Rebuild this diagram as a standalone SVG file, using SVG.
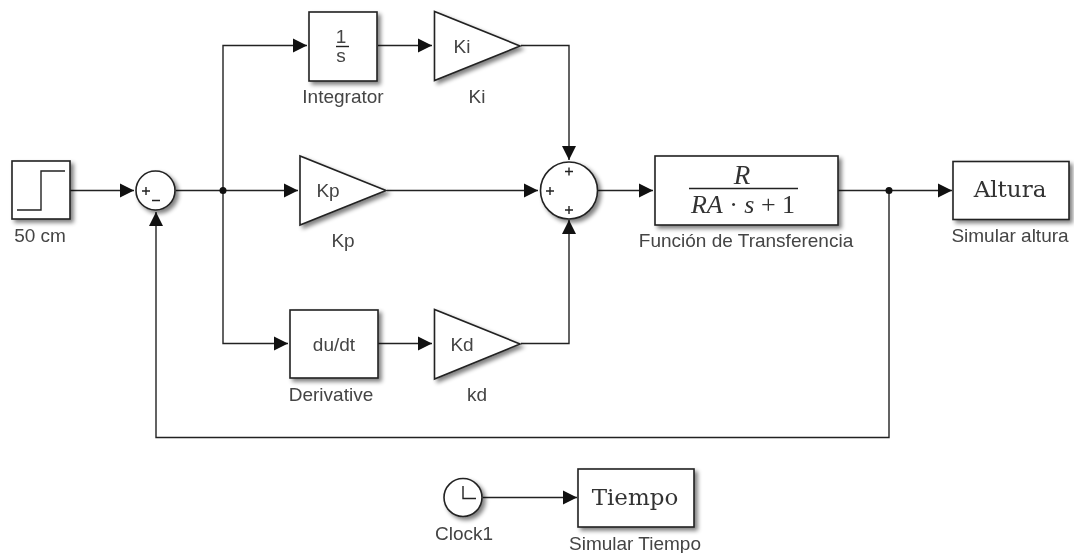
<svg xmlns="http://www.w3.org/2000/svg" width="1074" height="553" viewBox="0 0 1074 553">
<defs>
<filter id="sh" x="-20%" y="-20%" width="150%" height="150%"><feGaussianBlur in="SourceAlpha" stdDeviation="2.2"/><feOffset dx="2.5" dy="2.5"/><feComponentTransfer><feFuncA type="linear" slope="0.5"/></feComponentTransfer><feMerge><feMergeNode/><feMergeNode in="SourceGraphic"/></feMerge></filter>
<filter id="soft" x="-5%" y="-20%" width="110%" height="140%"><feGaussianBlur stdDeviation="0.35"/></filter>
<marker id="a" markerUnits="userSpaceOnUse" markerWidth="15" markerHeight="16" refX="14" refY="8" orient="auto"><path d="M0 1L14 8L0 15Z" fill="#111"/></marker>
</defs>
<style>
.b{fill:#fff;stroke:#222;stroke-width:1.6;filter:url(#sh)}
.c{fill:none;stroke:#222;stroke-width:1.4}
.k{marker-end:url(#a)}
text{font-family:"Liberation Sans",Arial,sans-serif;font-size:19px;fill:#444;text-anchor:middle;filter:url(#soft)}
.s{font-family:"Liberation Serif","Times New Roman",serif;fill:#333}
.d{font-family:"DejaVu Serif",serif;font-size:23px;fill:#333}
.i{font-style:italic}
</style>
<rect width="1074" height="553" fill="#fff"/>
<g id="connectors">
<path class="c k" d="M70 190.500H134"/>
<path class="c k" d="M176 190.500H298"/>
<path class="c k" d="M223 190.500V45.500H307"/>
<path class="c k" d="M223 190.500V343.500H288"/>
<path class="c k" d="M378 45.500H432"/>
<path class="c k" d="M378 343.500H432"/>
<path class="c k" d="M521 45.500H569V160"/>
<path class="c k" d="M521 343.500H569V220"/>
<path class="c k" d="M387 190.500H538"/>
<path class="c k" d="M598 190.500H653"/>
<path class="c k" d="M838 190.500H952"/>
<path class="c k" d="M889 190.500V437.500H156V212"/>
<path class="c k" d="M483 497.500H577"/>
<circle cx="223" cy="190.500" r="3.500" fill="#111"/>
<circle cx="889" cy="190.500" r="3.500" fill="#111"/>
</g>
<g id="step"><rect class="b" x="12" y="161" width="58" height="58"/><path class="c" d="M17 210H41V171H65"/><text x="40" y="242">50 cm</text></g>
<g id="sum1"><circle class="b" cx="155.500" cy="190.500" r="19.500"/><path class="c" d="M142 191h8M146 187v8M152 200.500h8" stroke-width="1.200"/></g>
<g id="integrator"><rect class="b" x="309" y="12" width="68" height="69"/><text x="341" y="43">1</text><path class="c" d="M336 46.500H349" stroke-width="1"/><text x="341" y="62">s</text><text x="343" y="103">Integrator</text></g>
<g id="ki"><path class="b" d="M434.500 11.500V80.500L520 46Z"/><text x="462" y="52.500">Ki</text><text x="477" y="103">Ki</text></g>
<g id="kp"><path class="b" d="M300 156V225L386 190.500Z"/><text x="328" y="197">Kp</text><text x="343" y="247">Kp</text></g>
<g id="derivative"><rect class="b" x="290" y="310" width="88" height="68"/><text x="334" y="351">du/dt</text><text x="331" y="401">Derivative</text></g>
<g id="kd"><path class="b" d="M434.500 309.500V379L520 344Z"/><text x="462" y="351">Kd</text><text x="477" y="401">kd</text></g>
<g id="sum2"><circle class="b" cx="569" cy="190.500" r="28.500"/><path class="c" d="M565 171.500h8M569 167.500v8M546 191h8M550 187v8M565 210h8M569 206v8" stroke-width="1.200"/></g>
<g id="tf"><rect class="b" x="655" y="156" width="183" height="69"/><text class="s i" x="742" y="184" style="font-size:27px">R</text><path class="c" d="M689 188.500H798"/><text class="s" x="743" y="213" style="font-size:26px"><tspan class="i">RA</tspan> · <tspan class="i">s</tspan> + 1</text><text x="746" y="247">Función de Transferencia</text></g>
<g id="altura"><rect class="b" x="953" y="161.500" width="116" height="58"/><text class="d" x="1010" y="197">Altura</text><text x="1010" y="241.500">Simular altura</text></g>
<g id="clock"><circle class="b" cx="463" cy="497.500" r="19"/><path class="c" d="M463 486V498.500H476"/><text x="464" y="540">Clock1</text></g>
<g id="tiempo"><rect class="b" x="578" y="469" width="116" height="58"/><text class="d" x="635" y="505">Tiempo</text><text x="635" y="550">Simular Tiempo</text></g>
</svg>
